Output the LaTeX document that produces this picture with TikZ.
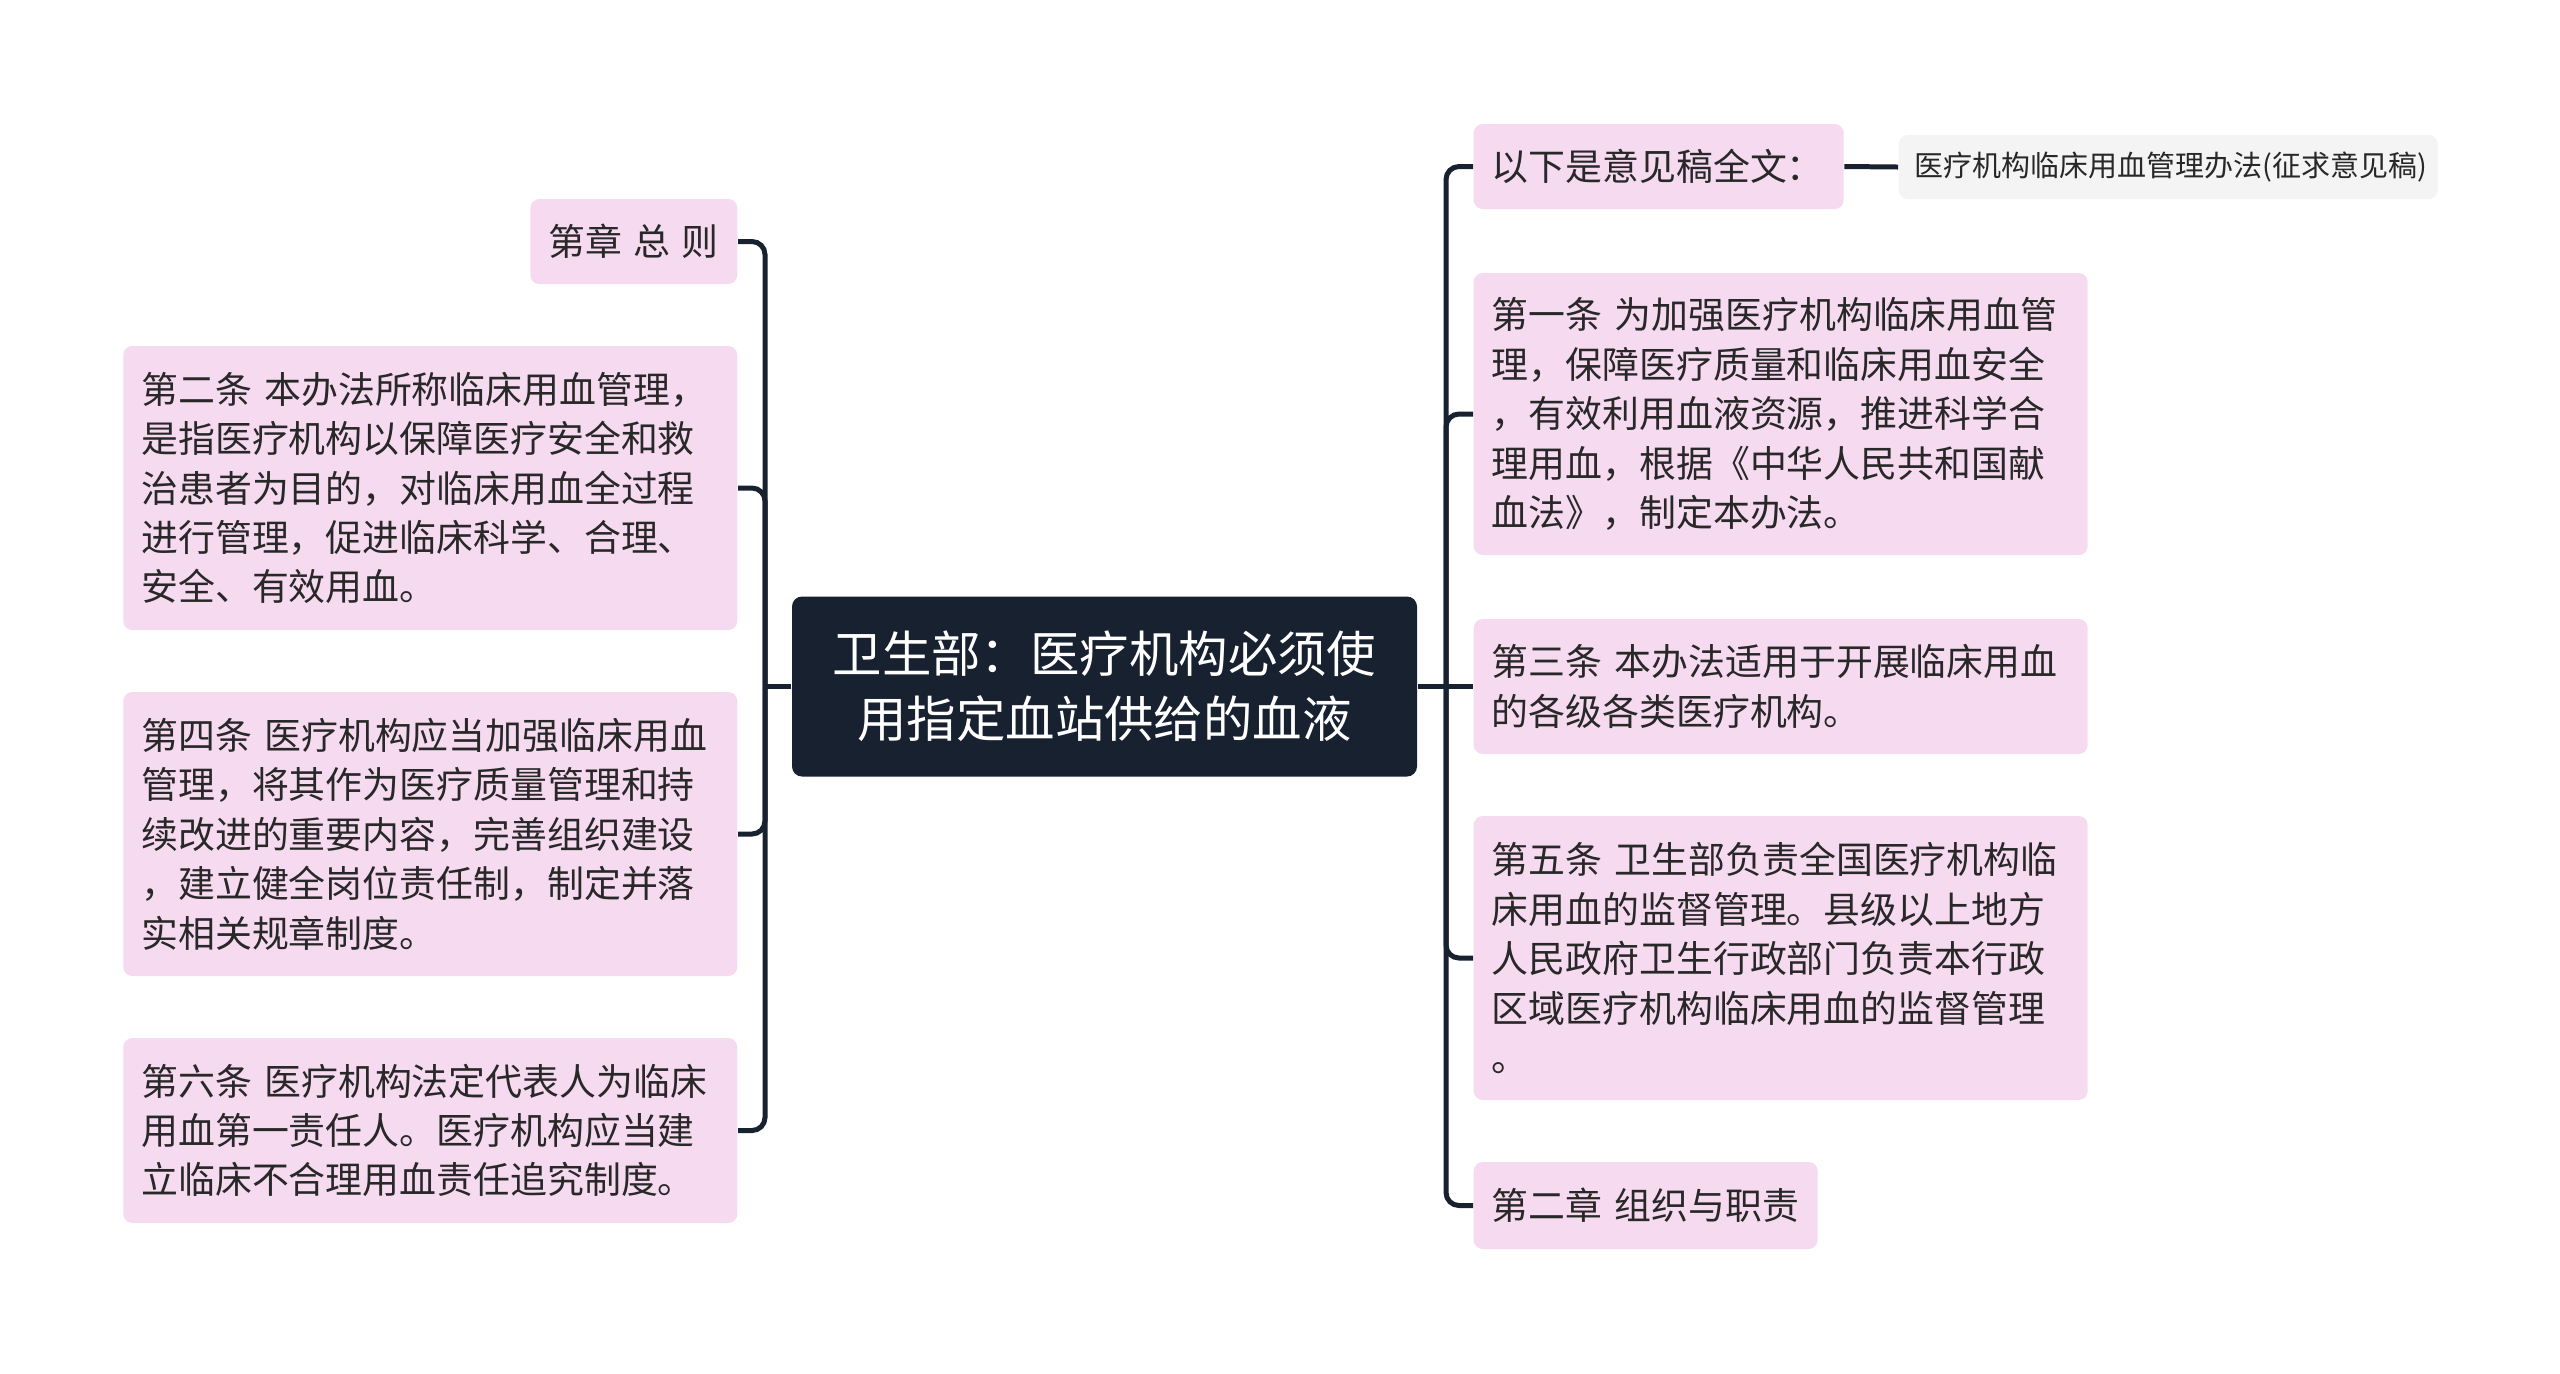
\documentclass[tikz,border=0pt]{standalone}
\usepackage{fontspec}
\setmainfont{Noto Sans CJK SC}
\definecolor{pinkbox}{RGB}{246,218,240}
\definecolor{notegray}{RGB}{244,244,244}
\definecolor{navy}{RGB}{23,33,48}
\definecolor{inkgray}{RGB}{40,40,40}

\tikzset{
  leaf/.style={fill=pinkbox, rounded corners=0.09cm, inner xsep=0.18cm, inner ysep=0.05cm,
    text=inkgray, align=left, font=\fontsize{10.5pt}{14.06pt}\selectfont},
  notebox/.style={fill=notegray, rounded corners=0.09cm, inner xsep=0.16cm, inner ysep=0.05cm,
    text=inkgray, align=left, font=\fontsize{8.25pt}{11pt}\selectfont},
  mainbox/.style={fill=navy, text=white, rounded corners=0.1cm, align=center,
    minimum width=6.25cm, minimum height=1.80cm, font=\fontsize{14.06pt}{18.5pt}\selectfont},
  link/.style={draw=navy, line width=1.42pt, rounded corners=0.13cm}
}

\begin{document}
\begin{tikzpicture}[y=-1cm]

\def\width{25.6}
\def\height{13.73}
\def\lx{7.38}
\def\rx{14.73}

\path [use as bounding box] (0,0) rectangle (\width,\height);

% CENTRE
\node [mainbox] (main) at (11.045,6.865) {卫生部：医疗机构必须使\\用指定血站供给的血液};

% LEFT
\node [leaf, anchor=east, text width=1.71cm, minimum height=0.85cm] (zongze) at (\lx,2.415) {第章\kern0.3em 总\kern0.3em 则};
\node [leaf, anchor=east, text width=5.78cm, minimum height=2.84cm] (tiao2) at (\lx,4.88)
  {第二条 本办法所称临床用血管理，\\是指医疗机构以保障医疗安全和救\\治患者为目的，对临床用血全过程\\进行管理，促进临床科学、合理、\\安全、有效用血。};
\node [leaf, anchor=east, text width=5.78cm, minimum height=2.84cm] (tiao4) at (\lx,8.34)
  {第四条 医疗机构应当加强临床用血\\管理，将其作为医疗质量管理和持\\续改进的重要内容，完善组织建设\\，建立健全岗位责任制，制定并落\\实相关规章制度。};
\node [leaf, anchor=east, text width=5.78cm, minimum height=1.85cm] (tiao6) at (\lx,11.305)
  {第六条 医疗机构法定代表人为临床\\用血第一责任人。医疗机构应当建\\立临床不合理用血责任追究制度。};

% RIGHT
\node [leaf, anchor=west, text width=3.34cm, minimum height=0.85cm] (quanwen) at (\rx,1.665) {以下是意见稿全文：};
\node [notebox, anchor=west, text width=5.07cm, minimum height=0.64cm] (gaojian) at (18.98,1.67) {医疗机构临床用血管理办法(征求意见稿)};
\node [leaf, anchor=west, text width=5.78cm, minimum height=2.82cm] (tiao1) at (\rx,4.14)
  {第一条 为加强医疗机构临床用血管\\理，保障医疗质量和临床用血安全\\，有效利用血液资源，推进科学合\\理用血，根据《中华人民共和国献\\血法》，制定本办法。};
\node [leaf, anchor=west, text width=5.78cm, minimum height=1.35cm] (tiao3) at (\rx,6.865)
  {第三条 本办法适用于开展临床用血\\的各级各类医疗机构。};
\node [leaf, anchor=west, text width=5.78cm, minimum height=2.84cm] (tiao5) at (\rx,9.58)
  {第五条 卫生部负责全国医疗机构临\\床用血的监督管理。县级以上地方\\人民政府卫生行政部门负责本行政\\区域医疗机构临床用血的监督管理\\。};
\node [leaf, anchor=west, text width=3.08cm, minimum height=0.87cm] (zhang2) at (\rx,12.055) {第二章 组织与职责};

% LINKS
\coordinate (ltrunk) at (7.65,6.865);
\coordinate (rtrunk) at (14.46,6.865);
\draw [link] (main.west) -- (ltrunk);
\draw [link] (main.east) -- (tiao3.west);
\foreach \n in {zongze,tiao2,tiao4,tiao6}
  \draw [link] (ltrunk) |- (\n.east);
\foreach \n in {quanwen,tiao1,tiao5,zhang2}
  \draw [link] (rtrunk) |- (\n.west);
\draw [link] (quanwen.east) -- (gaojian.west);

\end{tikzpicture}
\end{document}
